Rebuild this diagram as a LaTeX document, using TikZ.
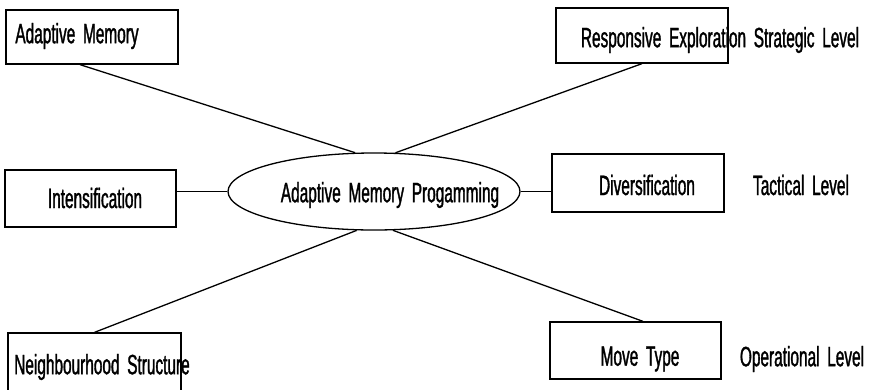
\documentclass[tikz,border=0pt]{standalone}
\usepackage{fontspec}
\setmainfont{Liberation Sans}[FakeStretch=0.55,WordSpace=1.8,FakeBold=1.2]
\usetikzlibrary{shapes.geometric}
\tikzset{
  box/.style={draw, line width=1.3pt, rectangle, inner sep=0pt},
  hub/.style={draw, line width=1.3pt, ellipse, inner sep=0pt,
              minimum width=292pt, minimum height=77pt},
  lbl/.style={inner sep=0pt, font=\fontsize{28}{32}\selectfont},
  link/.style={line width=1.3pt}
}
\begin{document}
\begin{tikzpicture}[x=1pt,y=-1pt]
  \clip (0,0) rectangle (876,389);
  \fill[white] (0,0) rectangle (876,389);

  % central ellipse
  \node[hub] (apm) at (374,191.5) {};
  \node[lbl] (apmt) at (390,195) {Adaptive Memory Progamming};

  % surrounding boxes
  \node[box, minimum width=172pt, minimum height=54pt] (am) at (92,37) {};
  \node[lbl] (amt) at (77,36) {Adaptive Memory};

  \node[box, minimum width=172pt, minimum height=55pt] (re) at (642,35.5) {};
  \node[lbl] (ret) at (720,40) {Responsive Exploration Strategic Level};

  \node[box, minimum width=171pt, minimum height=57pt] (in) at (90.5,198.5) {};
  \node[lbl] (int) at (95,198) {Intensification};

  \node[box, minimum width=172pt, minimum height=58pt] (di) at (638,183) {};
  \node[lbl] (dit) at (647,185) {Diversification};
  \node[lbl] (tac) at (801,185) {Tactical Level};

  \node[box, minimum width=173pt, minimum height=64pt] (nb) at (94.5,365) {};
  \node[lbl] (nbt) at (102,367) {Neighbourhood Structure};

  \node[box, minimum width=171pt, minimum height=57pt] (mt) at (635.5,350.5) {};
  \node[lbl] (mtt) at (640,359) {Move Type};
  \node[lbl] (opt) at (802,359) {Operational Level};

  % connectors to the ellipse
  \draw[link] ([xshift=-12pt]am.south) -- (apm.116);
  \draw[link] (re.south) -- (apm.61);
  \draw[link] (apm.west) -- (apm.west -| in.east);
  \draw[link] (apm.east) -- (apm.east -| di.west);
  \draw[link] (nb.north) -- (apm.246);
  \draw[link] ([xshift=7.5pt]mt.north) -- (apm.296);
\end{tikzpicture}
\end{document}
